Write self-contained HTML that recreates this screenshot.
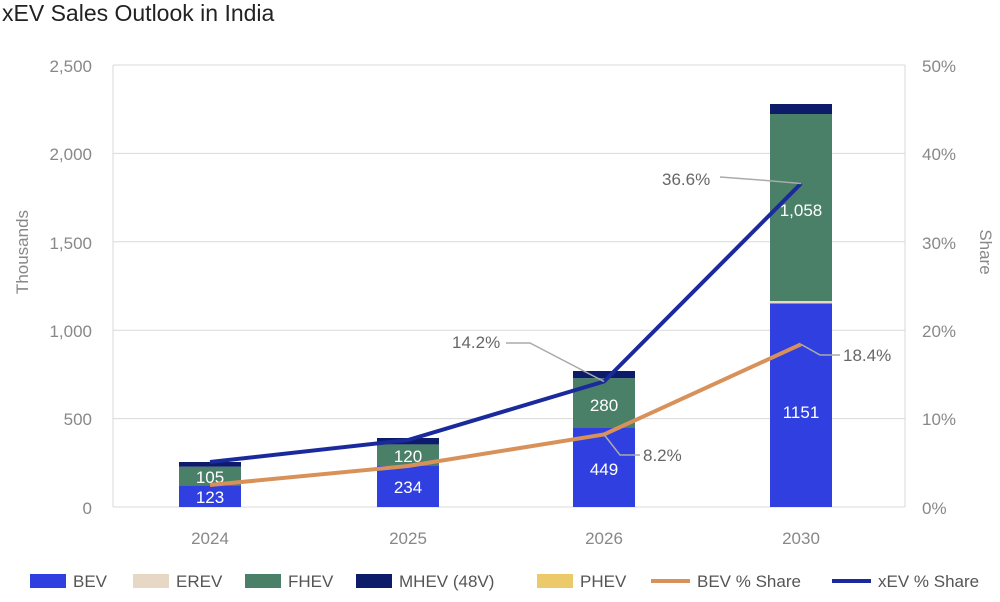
<!DOCTYPE html>
<html><head><meta charset="utf-8"><style>
body{margin:0;background:#fff;}
svg text{font-family:"Liberation Sans",sans-serif;}
</style></head><body>
<svg width="1000" height="597" viewBox="0 0 1000 597" xmlns="http://www.w3.org/2000/svg">
<text x="2" y="21" font-size="23" fill="#222">xEV Sales Outlook in India</text>
<g stroke="#d9d9d9" stroke-width="1">
<line x1="113" y1="65" x2="905" y2="65"/><line x1="113" y1="153.4" x2="905" y2="153.4"/>
<line x1="113" y1="241.8" x2="905" y2="241.8"/><line x1="113" y1="330.2" x2="905" y2="330.2"/>
<line x1="113" y1="418.6" x2="905" y2="418.6"/><line x1="113" y1="507" x2="905" y2="507"/>
<line x1="113" y1="65" x2="113" y2="507"/><line x1="905" y1="65" x2="905" y2="507"/>
</g>
<g font-size="17" fill="#888" text-anchor="end">
<text x="92" y="72">2,500</text><text x="92" y="160">2,000</text><text x="92" y="249">1,500</text>
<text x="92" y="337">1,000</text><text x="92" y="425">500</text><text x="92" y="514">0</text>
</g>
<g font-size="17" fill="#888" text-anchor="start">
<text x="922" y="72">50%</text><text x="922" y="160">40%</text><text x="922" y="249">30%</text>
<text x="922" y="337">20%</text><text x="922" y="425">10%</text><text x="922" y="514">0%</text>
</g>
<text transform="translate(28,252) rotate(-90)" font-size="17" fill="#888" text-anchor="middle">Thousands</text>
<text transform="translate(980,252) rotate(90)" font-size="17" fill="#888" text-anchor="middle">Share</text>
<g font-size="17" fill="#888" text-anchor="middle">
<text x="210" y="544">2024</text><text x="408" y="544">2025</text><text x="604" y="544">2026</text><text x="801" y="544">2030</text>
</g>
<g>
<rect x="179" y="485.3" width="62" height="21.7" fill="#2f3fe0"/>
<rect x="179" y="466.7" width="62" height="18.6" fill="#4a7f68"/>
<rect x="179" y="462" width="62" height="4.7" fill="#0c1b6a"/>
<rect x="377" y="465.6" width="62" height="41.4" fill="#2f3fe0"/>
<rect x="377" y="444.4" width="62" height="21.2" fill="#4a7f68"/>
<rect x="377" y="438" width="62" height="6.4" fill="#0c1b6a"/>
<rect x="573" y="427.6" width="62" height="79.4" fill="#2f3fe0"/>
<rect x="573" y="378.1" width="62" height="49.5" fill="#4a7f68"/>
<rect x="573" y="371" width="62" height="7.1" fill="#0c1b6a"/>
<rect x="770" y="303.5" width="62" height="203.5" fill="#2f3fe0"/>
<rect x="770" y="301" width="62" height="2.5" fill="#e6d8c4"/>
<rect x="770" y="114" width="62" height="187" fill="#4a7f68"/>
<rect x="770" y="104" width="62" height="10" fill="#0c1b6a"/>
</g>
<g font-size="17" fill="#fff" text-anchor="middle">
<text x="210" y="503">123</text><text x="210" y="483">105</text>
<text x="408" y="493">234</text><text x="408" y="462">120</text>
<text x="604" y="475">449</text><text x="604" y="411">280</text>
<text x="801" y="418">1151</text><text x="801" y="216">1,058</text>
</g>
<polyline points="210,485 408,466 604,434.5 801,344.3" fill="none" stroke="#d9915a" stroke-width="4"/>
<polyline points="210,462 408,440 604,381.5 801,183.5" fill="none" stroke="#1a2a9c" stroke-width="4"/>
<g stroke="#aaa" stroke-width="1.5" fill="none">
<polyline points="720,177 760,180 801,183.5"/>
<polyline points="506,343 530,343 604,381.5"/>
<polyline points="604,434.5 620,455 640,455"/>
<polyline points="801,344.3 820,355 840,355"/>
</g>
<g font-size="17" fill="#666">
<text x="662" y="185">36.6%</text>
<text x="452" y="348">14.2%</text>
<text x="643" y="461">8.2%</text>
<text x="843" y="361">18.4%</text>
</g>
<g font-size="17" fill="#555">
<rect x="30" y="574" width="36" height="14" fill="#2f3fe0"/><text x="73" y="587">BEV</text>
<rect x="133" y="574" width="36" height="14" fill="#e6d8c4"/><text x="176" y="587">EREV</text>
<rect x="245" y="574" width="36" height="14" fill="#4a7f68"/><text x="288" y="587">FHEV</text>
<rect x="356" y="574" width="36" height="14" fill="#0c1b6a"/><text x="399" y="587">MHEV (48V)</text>
<rect x="537" y="574" width="36" height="14" fill="#ecc96a"/><text x="580" y="587">PHEV</text>
<line x1="651" y1="581" x2="690" y2="581" stroke="#d9915a" stroke-width="4"/><text x="697" y="587">BEV % Share</text>
<line x1="832" y1="581" x2="871" y2="581" stroke="#1a2a9c" stroke-width="4"/><text x="878" y="587">xEV % Share</text>
</g>
</svg>
</body></html>
